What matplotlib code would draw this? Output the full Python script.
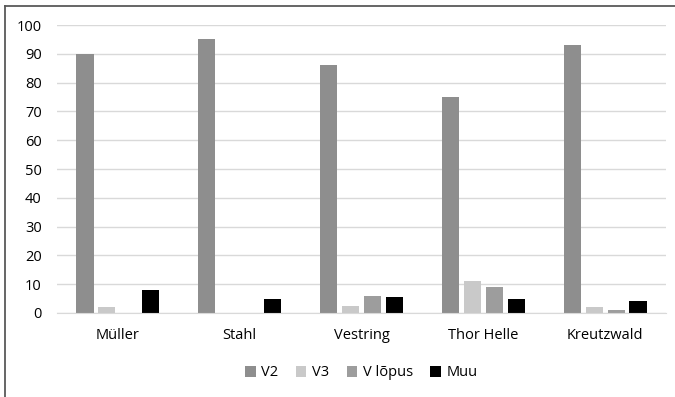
import matplotlib
matplotlib.use("Agg")
import matplotlib.pyplot as plt
import numpy as np
from matplotlib.lines import Line2D

# data
categories = ["Müller", "Stahl", "Vestring", "Thor Helle", "Kreutzwald"]
series_names = ["V2", "V3", "V lõpus", "Muu"]
v2 = [90, 95, 86, 75, 93]
v3 = [2, 0, 2.5, 11, 2]
v_lopus = [0, 0, 6, 9, 1]
muu = [8, 5, 5.5, 5, 4]
yticks = [0, 10, 20, 30, 40, 50, 60, 70, 80, 90, 100]

colors = ["#8e8e8e", "#c9c9c9", "#9d9d9d", "#000000"]

plt.rcParams["font.family"] = ["Open Sans", "DejaVu Sans"]

W, H = 675, 397
fig = plt.figure(figsize=(W / 100, H / 100), dpi=100)
ax = fig.add_axes([57 / W, (H - 313) / H, (666 - 57) / W, (313 - 25) / H])

x = np.arange(len(categories))
width = 0.14
step = 0.18
for i, (vals, name) in enumerate(zip([v2, v3, v_lopus, muu], series_names)):
    ax.bar(x + (i - 1.5) * step, vals, width, color=colors[i], label=name, zorder=3)

ax.set_xlim(-0.5, len(categories) - 0.5)
ax.set_ylim(0, 100)
ax.set_yticks(yticks)
ax.set_xticks(x)
ax.set_xticklabels(categories, fontsize=10.5)
ax.tick_params(axis="y", labelsize=10.5, length=0, pad=11)
ax.tick_params(axis="x", length=0, pad=11)
ax.grid(axis="y", color="#d9d9d9", lw=1, zorder=0)
for s in ["top", "right", "left"]:
    ax.spines[s].set_visible(False)
ax.spines["bottom"].set_color("#d9d9d9")
ax.spines["bottom"].set_zorder(4)

ax.legend(loc="center", bbox_to_anchor=(0.5, (313 - 373) / (313 - 25)),
          ncol=4, frameon=False, fontsize=10.5, handlelength=0.7, handleheight=0.7,
          handletextpad=0.4, columnspacing=1.2)

# outer frame (left and top edges visible)
fig.add_artist(Line2D([5.5 / W, 5.5 / W], [0, (H - 5.5) / H], transform=fig.transFigure,
                      color="#595959", lw=1.3))
fig.add_artist(Line2D([5.5 / W, 1], [(H - 5.5) / H, (H - 5.5) / H], transform=fig.transFigure,
                      color="#595959", lw=1.3))

fig.savefig("out.png", dpi=100)
